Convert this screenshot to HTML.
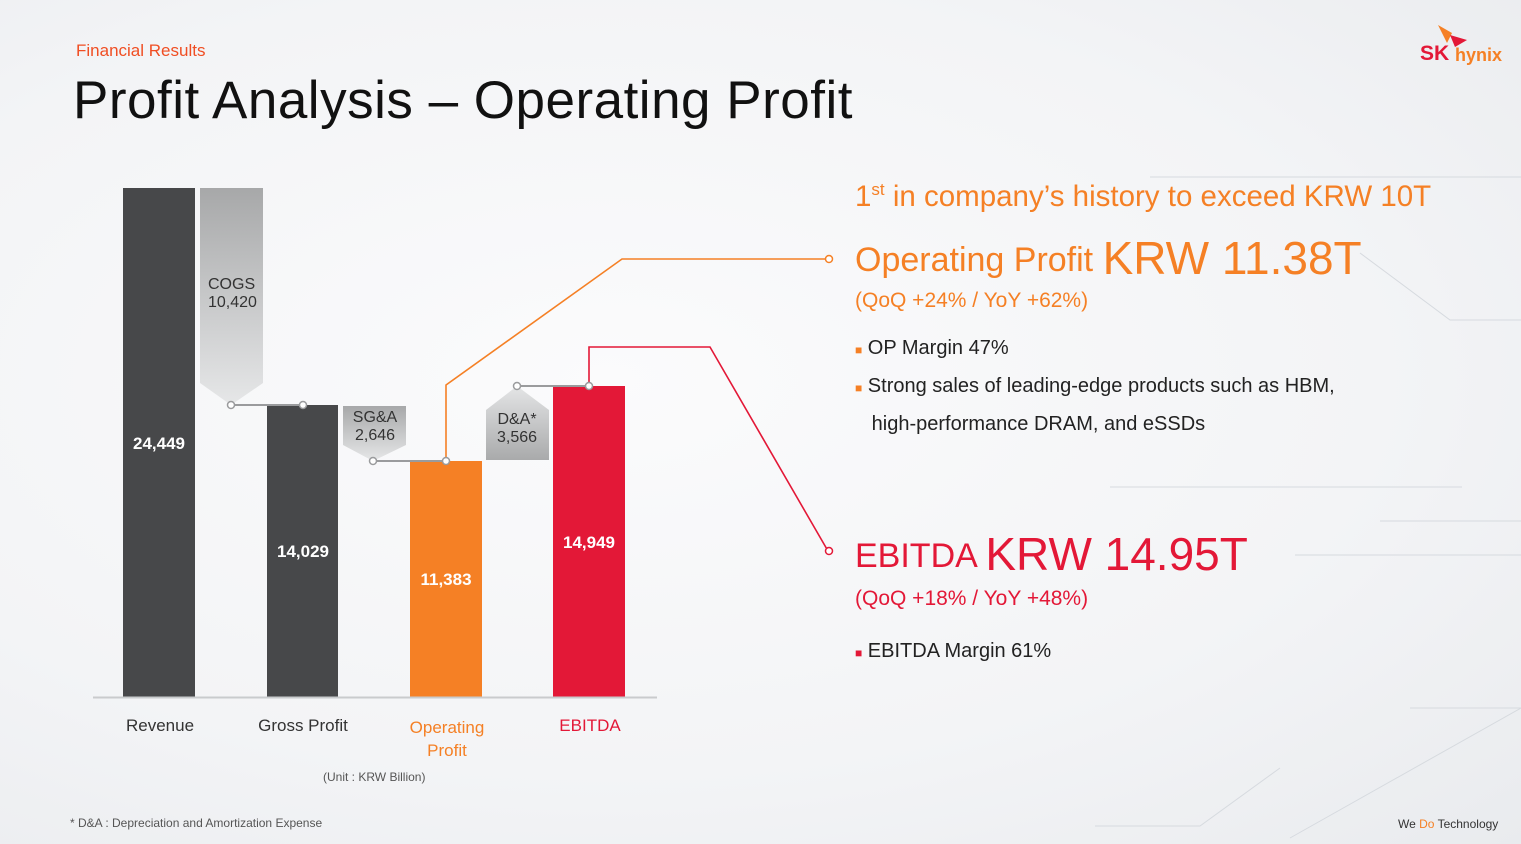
<!DOCTYPE html>
<html><head><meta charset="utf-8"><style>
body{margin:0;width:1521px;height:844px;overflow:hidden;background:radial-gradient(ellipse at 40% 45%,#fbfbfc 0%,#f3f4f6 60%,#e9ebee 100%);font-family:"Liberation Sans",sans-serif;position:relative}
.t{position:absolute;white-space:nowrap}
.b{line-height:36px;display:block}
</style></head><body>
<svg width="1521" height="844" style="position:absolute;left:0;top:0">
<defs>
<linearGradient id="g1" x1="0" y1="0" x2="0" y2="1"><stop offset="0" stop-color="#a7a8a9"/><stop offset="1" stop-color="#e6e7e8"/></linearGradient>
<linearGradient id="g2" x1="0" y1="0" x2="0" y2="1"><stop offset="0" stop-color="#e4e5e6"/><stop offset="1" stop-color="#a9aaab"/></linearGradient>
</defs>
<g stroke="#d6dadf" stroke-width="1" fill="none">
<path d="M1150 177H1521"/><path d="M1360 253L1450 320H1521"/><path d="M1110 487H1462"/><path d="M1380 521H1521"/><path d="M1295 555H1521"/><path d="M1410 708H1521L1290 838"/><path d="M1095 826H1200L1280 768"/>
</g>
<rect x="123" y="188" width="72" height="509" fill="#47484a"/>
<polygon points="200,188 263,188 263,383 231,405 200,383" fill="url(#g1)"/>
<rect x="267" y="405" width="71" height="292" fill="#47484a"/>
<polygon points="343,406 406,406 406,445 373,461 343,445" fill="url(#g1)"/>
<rect x="410" y="461" width="72" height="236" fill="#f58025"/>
<polygon points="486,410 517,386 549,410 549,460 486,460" fill="url(#g2)"/>
<rect x="553" y="386" width="72" height="311" fill="#e31837"/>
<line x1="93" y1="697.5" x2="657" y2="697.5" stroke="#c9cbcd" stroke-width="2"/>
<g stroke="#9a9b9d" stroke-width="2" fill="#fff">
<line x1="231" y1="405" x2="303" y2="405"/><line x1="373" y1="461" x2="446" y2="461"/><line x1="517" y1="386" x2="589" y2="386"/>
</g>
<polyline points="446,461 446,385 622,259 828,259" fill="none" stroke="#f58025" stroke-width="1.6"/>
<polyline points="589,386 589,347 710,347 828,551" fill="none" stroke="#e31837" stroke-width="1.6"/>
<g stroke="#9a9b9d" stroke-width="1.5" fill="#fff">
<circle cx="231" cy="405" r="3.5"/><circle cx="303" cy="405" r="3.5"/><circle cx="373" cy="461" r="3.5"/><circle cx="446" cy="461" r="3.5"/><circle cx="517" cy="386" r="3.5"/><circle cx="589" cy="386" r="3.5"/>
</g>
<circle cx="829" cy="259" r="3.5" fill="#fff" stroke="#f58025" stroke-width="1.5"/>
<circle cx="829" cy="551" r="3.5" fill="#fff" stroke="#e31837" stroke-width="1.5"/>
<polygon points="1438,25 1452,33 1447,43" fill="#f58025"/><polygon points="1450,35 1467,40 1455,47" fill="#e31837"/>
</svg>
<div class="t" style="left:76px;top:41px;font-size:17px;color:#f04e23">Financial Results</div>
<div class="t" style="left:73px;top:70px;font-size:53px;color:#111;letter-spacing:0.5px">Profit Analysis – Operating Profit</div>
<div class="t" style="left:1420px;top:42px;font-size:21px;font-weight:bold;color:#e31837">SK</div>
<div class="t" style="left:1455px;top:45px;font-size:18px;font-weight:bold;color:#f58025">hynix</div>
<div class="t" style="left:208px;top:276px;font-size:16px;color:#333;text-align:center;width:46px">COGS<br>10,420</div>
<div class="t" style="left:350px;top:409px;font-size:16px;color:#333;text-align:center;width:50px">SG&amp;A<br>2,646</div>
<div class="t" style="left:492px;top:411px;font-size:16px;color:#333;text-align:center;width:50px">D&amp;A*<br>3,566</div>
<div class="t" style="left:123px;top:434px;width:72px;text-align:center;font-size:17px;color:#fff;font-weight:bold">24,449</div>
<div class="t" style="left:267px;top:542px;width:72px;text-align:center;font-size:17px;color:#fff;font-weight:bold">14,029</div>
<div class="t" style="left:410px;top:570px;width:72px;text-align:center;font-size:17px;color:#fff;font-weight:bold">11,383</div>
<div class="t" style="left:553px;top:533px;width:72px;text-align:center;font-size:17px;color:#fff;font-weight:bold">14,949</div>
<div class="t" style="left:100px;top:716px;width:120px;text-align:center;font-size:17px;color:#333">Revenue</div>
<div class="t" style="left:243px;top:716px;width:120px;text-align:center;font-size:17px;color:#333">Gross Profit</div>
<div class="t" style="left:387px;top:716px;width:120px;text-align:center;font-size:17px;color:#f58025;line-height:23px">Operating<br>Profit</div>
<div class="t" style="left:530px;top:716px;width:120px;text-align:center;font-size:17px;color:#e31837">EBITDA</div>
<div class="t" style="left:323px;top:770px;font-size:12px;color:#555">(Unit : KRW Billion)</div>
<div class="t" style="left:70px;top:816px;font-size:12px;color:#555">* D&amp;A : Depreciation and Amortization Expense</div>
<div class="t" style="left:855px;top:180px;font-size:29.5px;color:#f58025">1<sup style="font-size:17px">st</sup> in company’s history to exceed KRW 10T</div>
<div class="t" style="left:855px;top:228px;font-size:34px;color:#f58025">Operating Profit <span style="font-size:46px;position:relative;top:3px">KRW 11.38T</span></div>
<div class="t" style="left:855px;top:289px;font-size:21px;color:#f58025">(QoQ +24% / YoY +62%)</div>
<div class="t" style="left:855px;top:330px;font-size:20px;color:#222"><span class="b"><span style="color:#f58025;font-size:12px">■</span> OP Margin 47%</span><span class="b"><span style="color:#f58025;font-size:12px">■</span> Strong sales of leading-edge products such as HBM,</span><span class="b">&nbsp;&nbsp;&nbsp;high-performance DRAM, and eSSDs</span></div>
<div class="t" style="left:855px;top:524px;font-size:34px;color:#e31837">EBITDA <span style="font-size:46px;position:relative;top:3px">KRW 14.95T</span></div>
<div class="t" style="left:855px;top:587px;font-size:21px;color:#e31837">(QoQ +18% / YoY +48%)</div>
<div class="t" style="left:855px;top:640px;font-size:20px;color:#222"><span style="color:#e31837;font-size:12px">■</span> EBITDA Margin 61%</div>
<div class="t" style="left:1398px;top:817px;font-size:12px;color:#333">We <span style="color:#f58025">Do</span> Technology</div>
</body></html>
